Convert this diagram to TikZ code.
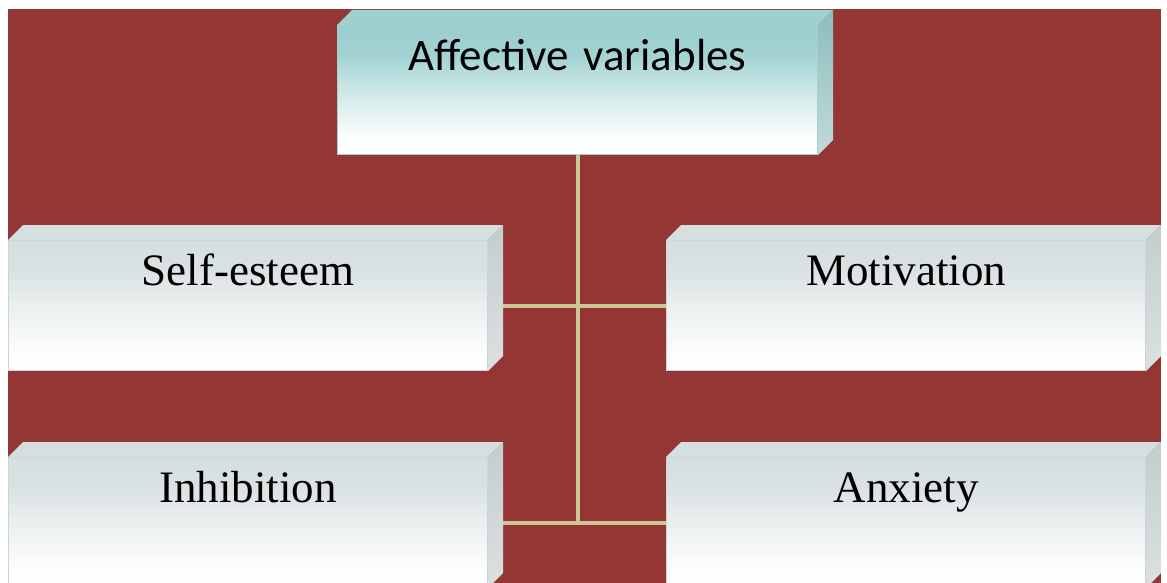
\documentclass[tikz,border=0pt]{standalone}
\usepackage{fontspec}
\setmainfont{Liberation Serif}
\newfontfamily\labelsans{Carlito}
\definecolor{framered}{HTML}{943634}
\definecolor{tealtop}{HTML}{9ACECE}
\definecolor{tealside}{HTML}{8DBDBC}
\definecolor{tealedge}{HTML}{A5D0D0}
\definecolor{graytop}{HTML}{D6DFE0}
\definecolor{grayside}{HTML}{C4CDCE}
\definecolor{grayedge}{HTML}{CCD5D6}
\definecolor{linkline}{HTML}{CDC795}
\pgfdeclarelayer{backdrop}
\pgfdeclarelayer{links}
\pgfsetlayers{backdrop,links,main}
% front faces: solid colour at the top fading to white at the bottom
\pgfdeclareverticalshading{tealface}{100bp}{color(0bp)=(white); color(25bp)=(white); color(32bp)=(white!96!tealtop); color(50bp)=(tealtop!50!white); color(64bp)=(tealtop!92!white); color(75bp)=(tealtop); color(100bp)=(tealtop)}
\pgfdeclareverticalshading{grayface}{100bp}{color(0bp)=(white); color(25bp)=(white); color(32bp)=(white!94!graytop); color(50bp)=(graytop!50!white); color(64bp)=(graytop!92!white); color(75bp)=(graytop); color(100bp)=(graytop)}
\pgfdeclareverticalshading{tealsideshade}{100bp}{color(0bp)=(tealside!55!white); color(25bp)=(tealside!55!white); color(75bp)=(tealside); color(100bp)=(tealside)}
\pgfdeclareverticalshading{graysideshade}{100bp}{color(0bp)=(grayside!60!white); color(25bp)=(grayside!60!white); color(75bp)=(grayside); color(100bp)=(grayside)}
\tikzset{
  headbox/.style={rectangle, inner sep=0pt, text width=480pt, align=center,
    text height=45pt, text depth=84pt, shading=tealface, draw=tealedge, line width=1pt,
    font=\labelsans\fontsize{45}{52}\selectfont},
  itembox/.style={rectangle, inner sep=0pt, text width=479pt, align=center,
    text height=45pt, text depth=85pt, shading=grayface, draw=grayedge, line width=1pt,
    font=\fontsize{45}{54}\selectfont},
  link/.style={draw=linkline, line width=4pt},
}
% bevelled top and right faces of a block
\newcommand{\blockfaces}[3]{%
  \fill[#2] (#1.north west) -- ++(15,-15) -- ([xshift=15pt,yshift=15pt]#1.north east) -- (#1.north east) -- cycle;
  \shade[shading=#3] (#1.north east) -- ++(15,-15) -- ([xshift=15pt,yshift=15pt]#1.south east) -- (#1.south east) -- cycle;
}
\begin{document}
\begin{tikzpicture}[x=1pt,y=-1pt]
  \useasboundingbox (0,0) rectangle (1167,583);
  \begin{scope}
    \clip (0,0) rectangle (1167,583);
    \begin{pgfonlayer}{backdrop}
      \fill[framered] (8,9) rectangle (1161,583);
    \end{pgfonlayer}

    \node[headbox, anchor=north west] (head) at (337,25) {Affective variables};
    \node[itembox, anchor=north west] (self) at (8,240) {Self-esteem};
    \node[itembox, anchor=north west] (motiv) at (666,240) {Motivation};
    \node[itembox, anchor=north west] (inhib) at (8,457) {Inhibition};
    \node[itembox, anchor=north west] (anx) at (666,457) {Anxiety};

    \coordinate (trunkend) at (head.south |- inhib.east);

    % connectors run behind the blocks
    \begin{pgfonlayer}{links}
      \path[link] (head.south) -- (trunkend);
      \path[link] (self.east) -- (motiv.west);
      \path[link] (inhib.east) -- (anx.west);
    \end{pgfonlayer}

    \blockfaces{head}{tealtop!95!white}{tealsideshade}
    \blockfaces{self}{graytop}{graysideshade}
    \blockfaces{motiv}{graytop}{graysideshade}
    \blockfaces{inhib}{graytop}{graysideshade}
    \blockfaces{anx}{graytop}{graysideshade}
  \end{scope}
\end{tikzpicture}
\end{document}
